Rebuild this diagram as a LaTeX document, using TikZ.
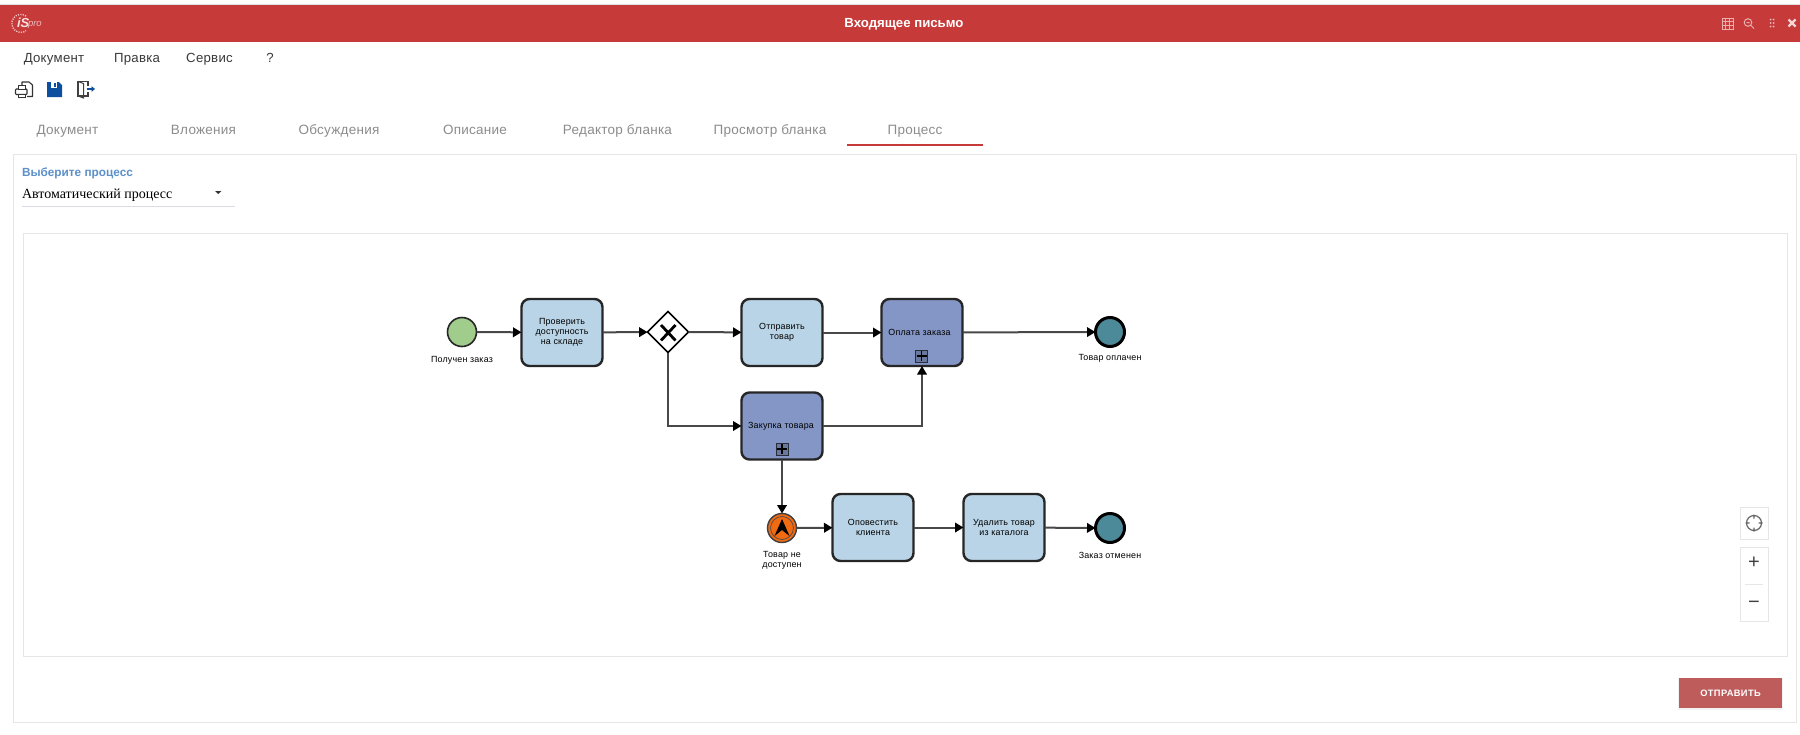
\documentclass[tikz,border=0pt]{standalone}
\usepackage{fontspec}
\setmainfont{Liberation Sans}
\newfontfamily\serifui{Liberation Serif}
\usetikzlibrary{shapes.geometric,arrows.meta,calc}
\definecolor{barred}{HTML}{C73A3A}
\definecolor{taskblue}{HTML}{B9D4E6}
\definecolor{subblue}{HTML}{8496C6}
\definecolor{startgreen}{HTML}{A0CC8C}
\definecolor{endteal}{HTML}{4D8A99}
\definecolor{evorange}{HTML}{F06A12}
\definecolor{uiline}{HTML}{E6E6E6}
\definecolor{menutext}{HTML}{3A3A3A}
\definecolor{tabtext}{HTML}{8C8C8C}
\definecolor{flowcol}{HTML}{484848}
\definecolor{floppy}{HTML}{0B4F9E}
\definecolor{pickblue}{HTML}{5C90C8}
\definecolor{btnred}{HTML}{BE5C5C}
\tikzset{
  x=1pt,y=-1pt,
  every node/.style={inner sep=0pt,outer sep=0pt},
  menuitem/.style={anchor=center,text=menutext,text height=10pt,text depth=3pt,font=\fontsize{13.2}{15}\selectfont\addfontfeature{LetterSpace=2}},
  tabitem/.style={anchor=center,text=tabtext,text height=10pt,text depth=3pt,font=\fontsize{13.5}{15}\selectfont\addfontfeature{LetterSpace=2}},
  task/.style={draw=black!85,line width=2.4pt,rounded corners=8pt,minimum width=81pt,minimum height=67pt,fill=taskblue,align=center,
    font=\fontsize{8.9}{10}\selectfont\addfontfeature{LetterSpace=2}},
  subtask/.style={task,fill=subblue},
  evlabel/.style={align=center,font=\fontsize{8.9}{10}\selectfont\addfontfeature{LetterSpace=2}},
  startev/.style={circle,draw=black!85,line width=1.6pt,fill=startgreen,minimum size=29pt},
  endev/.style={circle,draw=black,line width=3pt,fill=endteal,minimum size=29pt},
  midev/.style={circle,draw=black!75,line width=1.4pt,fill=evorange,minimum size=29pt,
    path picture={
      \draw[black!70,line width=.7pt] (path picture bounding box.center) circle (11.5pt);
      \fill[black] ($(path picture bounding box.center)+(0,-9)$) -- ++(7.5,17) -- ++(-7.5,-6) -- ++(-7.5,6) -- cycle;
    }},
  gate/.style={diamond,aspect=1,draw=black,line width=1.5pt,fill=white,minimum width=41pt,minimum height=41pt},
  plusbox/.style={draw=black!70!subblue,line width=1pt,fill=subblue!80!black,minimum size=12pt,
    path picture={
      \draw[black,line width=1.1pt] ($(path picture bounding box.center)+(-5,0)$) -- ++(10,0);
      \draw[black,line width=1.1pt] ($(path picture bounding box.center)+(0,-5)$) -- ++(0,10);
    }},
  flow/.style={draw=flowcol,line width=2pt,-{Triangle[length=8.5pt,width=9.5pt,color=black]}},
  uibox/.style={draw=uiline,line width=1pt,fill=white},
  headicon/.style={draw=white!60!barred,line width=1pt},
}
\begin{document}
\begin{tikzpicture}
\useasboundingbox (0,0) rectangle (1800,734);
\fill[white] (0,0) rectangle (1800,734);
% title bar
\fill[black!12] (0,4) rectangle (1800,5);
\fill[barred] (0,5) rectangle (1800,42);
\node[text=white,font=\fontsize{13.2}{15}\selectfont\bfseries] (title) at (904,24) {Входящее письмо};
\draw[white!70!barred,line width=1.4pt,dash pattern=on 1.2pt off 1.2pt] (26,16) arc[start angle=-55,end angle=-305,radius=9];
\node[anchor=west,text=white!85!barred,font=\fontsize{13}{15}\selectfont\bfseries\itshape] (logoa) at (17,23) {iS};
\node[anchor=west,text=white!65!barred,font=\fontsize{9.5}{10}\selectfont\itshape] (logob) at (28,24.5) {pro};
% header icons
\draw[headicon,line width=.8pt] (1722,18) rectangle (1733,29) (1725.7,18) -- (1725.7,29) (1729.3,18) -- (1729.3,29) (1722,21.7) -- (1733,21.7) (1722,25.3) -- (1733,25.3);
\draw[headicon] (1748,22.5) circle (3.8) (1751,25.5) -- (1754,28.5) (1746.5,22.5) -- (1749.5,22.5);
\foreach \xx in {1770.5,1773.5} \foreach \yy in {19.5,23,26.5} \fill[white!65!barred] (\xx,\yy) circle (1);
\draw[white!80!barred,line width=2.2pt] (1788.5,19.5) -- (1795.5,26.5) (1795.5,19.5) -- (1788.5,26.5);
% menu
\node[menuitem] (m1) at (54,59) {Документ};
\node[menuitem] (m2) at (137,59) {Правка};
\node[menuitem] (m3) at (209.5,59) {Сервис};
\node[menuitem] (m4) at (270,59) {?};
% toolbar: printer
\draw[black!80,line width=1.1pt,line join=round] (22,86) -- (22,82) -- (29,82) -- (32.5,85) -- (32.5,96.5) -- (27,96.5);
\draw[black!80,fill=white,line width=1.1pt,rounded corners=.8pt] (15.5,89) rectangle (27,94.5);
\draw[black!80,fill=white,line width=1pt] (18,85.5) rectangle (25,89);
\draw[black!80,fill=white,line width=1pt] (18,94) rectangle (25,97);
% toolbar: floppy
\fill[floppy] (47,82) -- (59,82) -- (62,85) -- (62,97) -- (47,97) -- cycle;
\fill[white] (51,82) rectangle (57,87.5);
\fill[floppy] (54.3,83) rectangle (56,86.5);
% toolbar: exit
\draw[black!75,line width=1.1pt] (88,86) -- (88,81.5) -- (78,81.5) -- (78,96) -- (88,96) -- (88,92);
\draw[black!75,line width=1pt] (78,81.5) -- (83.5,83.5) -- (83.5,98) -- (78,96);
\draw[floppy,line width=1.6pt,-{Triangle[length=3.5pt,width=5.5pt]}] (87,89) -- (95,89);
% tabs
\node[tabitem] (t1) at (67.5,130.5) {Документ};
\node[tabitem] (t2) at (203.5,130.5) {Вложения};
\node[tabitem] (t3) at (339,130.5) {Обсуждения};
\node[tabitem] (t4) at (475,130.5) {Описание};
\node[tabitem] (t5) at (617.5,130.5) {Редактор бланка};
\node[tabitem] (t6) at (770,130.5) {Просмотр бланка};
\node[tabitem] (t7) at (915,130.5) {Процесс};
\fill[barred] (847,144) rectangle (983,145.5);
% panel
\draw[uiline,line width=1pt] (13.5,154.5) rectangle (1796,722);
\node[anchor=west,text=pickblue,font=\fontsize{11.8}{13}\selectfont\bfseries] (pick) at (22,173) {Выберите процесс};
\node[anchor=west,font=\serifui\fontsize{14}{15}\selectfont] (auto) at (22,195.5) {Автоматический процесс};
\fill[black!80] (215,191) -- (221.5,191) -- (218.2,194) -- cycle;
\draw[blue!5!uiline,line width=1pt] (22,206) -- (235,206);
% canvas
\draw[uiline,line width=1pt] (23,233) rectangle (1787,656);
% BPMN
\node[startev] (start) at (462,332) {};
\node[evlabel] (startl) at (462,360) {Получен заказ};
\node[task] (check) at (562,332.5) {Проверить\\доступность\\на складе};
\node[gate] (gw) at (668,332) {};
\draw[black,line width=2.8pt] (661,325) -- (675.5,340.5) (675.5,325) -- (661,340.5);
\node[task] (send) at (782,332.5) {Отправить\\товар};
\node[subtask] (pay) at (922,332.5) {Оплата заказа\hspace{5pt}};
\node[plusbox] (payp) at (921.5,356) {};
\node[endev] (end1) at (1110,332) {};
\node[evlabel] (end1l) at (1110,358) {Товар оплачен};
\node[subtask] (buy) at (782,426) {Закупка товара\hspace{2pt}};
\node[plusbox] (buyp) at (782,449) {};
\node[midev] (mid) at (782,528) {};
\node[evlabel] (midl) at (782,560) {Товар не\\доступен};
\node[task] (notify) at (873,527.5) {Оповестить\\клиента};
\node[task] (del) at (1004,527.5) {Удалить товар\\из каталога};
\node[endev] (end2) at (1110,528) {};
\node[evlabel] (end2l) at (1110,555) {Заказ отменен};
\draw[flow] (start) -- (check);
\draw[flow] (check) -- (gw);
\draw[flow] (gw) -- (send);
\draw[flow] (send) -- (pay);
\draw[flow] (pay) -- (end1);
\draw[flow] (gw.south) |- (buy.west);
\draw[flow] (buy.east) -| (pay.south);
\draw[flow] (buy) -- (mid);
\draw[flow] (mid) -- (notify);
\draw[flow] (notify) -- (del);
\draw[flow] (del) -- (end2);
% zoom controls
\node[uibox,minimum width=28pt,minimum height=32pt] (fit) at (1754,523) {};
\draw[black!60,line width=1.2pt] (1754,523) circle (7.5) (1754,514.5) -- (1754,518.5) (1754,527.5) -- (1754,531.5) (1745.5,523) -- (1749.5,523) (1758.5,523) -- (1762.5,523);
\node[uibox,minimum width=28pt,minimum height=74pt] (zoombox) at (1754,584) {};
\draw[uiline,line width=.8pt] (1745,584) -- (1763,584);
\node[text=black!75,font=\fontsize{20}{20}\selectfont] (plus) at (1754,563) {+};
\node[text=black!75,font=\fontsize{20}{20}\selectfont] (minus) at (1754,605) {−};
% send button
\node[fill=black!5,minimum width=105pt,minimum height=32pt] (btnsh) at (1730.5,694) {};
\node[fill=btnred,minimum width=103pt,minimum height=30pt,text=white,font=\fontsize{9.3}{11}\selectfont\bfseries\addfontfeature{LetterSpace=4}] (btn) at (1730.5,693) {ОТПРАВИТЬ};
\end{tikzpicture}
\end{document}
